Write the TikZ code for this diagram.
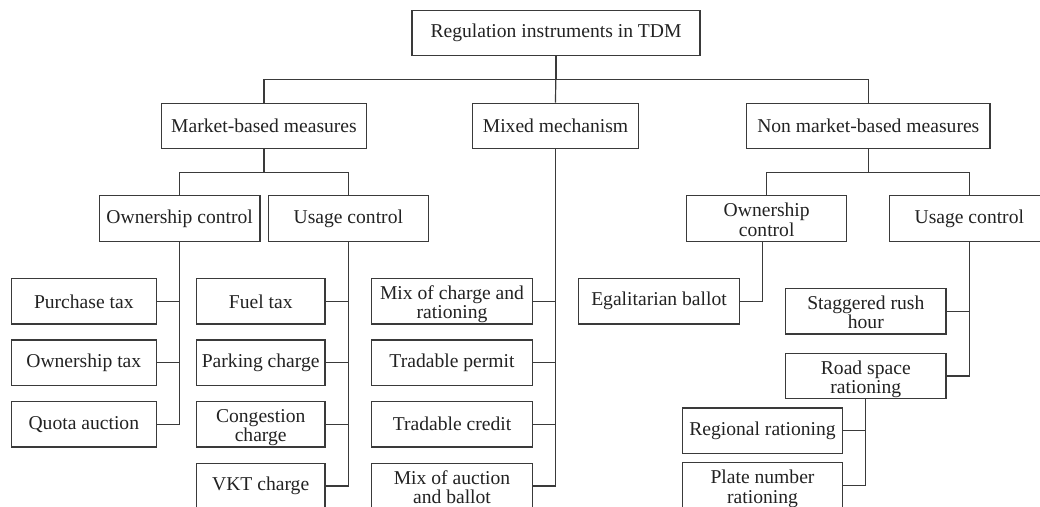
\documentclass[tikz,border=0pt]{standalone}
\usepackage{fontspec}
\setmainfont{Liberation Serif}
\begin{document}
\begin{tikzpicture}[x=1pt,y=-1pt,
  box/.style={draw=linec, line width=1.2pt, minimum height=45.5pt, inner sep=0pt, align=center, text=txtc,
    font=\fontsize{19.6}{19.5}\selectfont},
  two/.style={text height=39pt, text depth=4pt},
  conn/.style={draw=linec, line width=1.2pt}]
\definecolor{linec}{HTML}{3A3A3A}
\definecolor{txtc}{HTML}{222222}
\useasboundingbox (0,0) rectangle (1040,506);
\clip (0,0) rectangle (1040,506);
% level 0
\node[box, minimum width=288pt] (top) at (556,33) {Regulation instruments in TDM};
% level 1
\node[box, minimum width=205.4pt] (market) at (264,126) {Market-based measures};
\node[box, minimum width=165.6pt] (mixed) at (555.5,126) {Mixed mechanism};
\node[box, minimum width=243.3pt] (nonmkt) at (868.3,126) {Non market-based measures};
% level 2
\node[box, minimum width=160.7pt] (own1) at (179.7,218.6) {Ownership control};
\node[box, minimum width=160pt] (use1) at (348.3,218.6) {Usage control};
\node[box, two, minimum width=160pt] (own2) at (766.7,218.6) {Ownership\\control};
\node[box, minimum width=160pt] (use2) at (969.3,218.6) {Usage control};
% market ownership
\node[box, minimum width=145pt] (purchase) at (83.8,301.3) {Purchase tax};
\node[box, minimum width=145pt] (owntax) at (83.8,362.7) {Ownership tax};
\node[box, minimum width=145pt] (quota) at (83.8,424.2) {Quota auction};
% market usage
\node[box, minimum width=128.7pt] (fuel) at (260.7,301.3) {Fuel tax};
\node[box, minimum width=128.7pt] (parking) at (260.7,362.7) {Parking charge};
\node[box, two, minimum width=128.7pt] (congestion) at (260.7,424.2) {Congestion\\charge};
\node[box, minimum width=128.7pt] (vkt) at (260.7,486) {VKT charge};
% mixed
\node[box, two, minimum width=160.6pt] (mixcr) at (452,301.3) {Mix of charge and\\rationing};
\node[box, minimum width=160.6pt] (permit) at (452,362.7) {Tradable permit};
\node[box, minimum width=160.6pt] (credit) at (452,424.2) {Tradable credit};
\node[box, two, minimum width=160.6pt] (mixab) at (452,486) {Mix of auction\\and ballot};
% non market
\node[box, minimum width=160.6pt] (egal) at (659,301.3) {Egalitarian ballot};
\node[box, two, minimum width=160.3pt] (stagger) at (865.8,311.3) {Staggered rush\\hour};
\node[box, two, minimum width=160.3pt] (road) at (865.8,376) {Road space\\rationing};
\node[box, minimum width=160.4pt] (regional) at (762.5,430.8) {Regional rationing};
\node[box, two, minimum width=160.4pt] (plate) at (762.5,485.5) {Plate number\\rationing};
% junction rows
\coordinate (r1) at (0,79.3);
\coordinate (r2) at (0,172.3);
% connectors
\draw[conn] (top.south) -- (top.south |- r1) -| (market.north);
\draw[conn] (top.south) -- (top.south |- r1) -| (nonmkt.north);
\draw[conn] (top.south) -- (mixed.north);
\draw[conn] (market.south) -- (market.south |- r2) -| (own1.north);
\draw[conn] (market.south) -- (market.south |- r2) -| (use1.north);
\draw[conn] (nonmkt.south) -- (nonmkt.south |- r2) -| (own2.north);
\draw[conn] (nonmkt.south) -- (nonmkt.south |- r2) -| (use2.north);
\foreach \n in {purchase,owntax,quota} \draw[conn] (own1.south) |- (\n.east);
\foreach \n in {fuel,parking,congestion,vkt} \draw[conn] (use1.south) |- (\n.east);
\foreach \n in {mixcr,permit,credit,mixab} \draw[conn] (mixed.south) |- (\n.east);
\draw[conn] ([xshift=-4.4pt]own2.south) |- (egal.east);
\foreach \n in {stagger,road} \draw[conn] (use2.south) |- (\n.east);
\foreach \n in {regional,plate} \draw[conn] (road.south) |- (\n.east);
\end{tikzpicture}
\end{document}
